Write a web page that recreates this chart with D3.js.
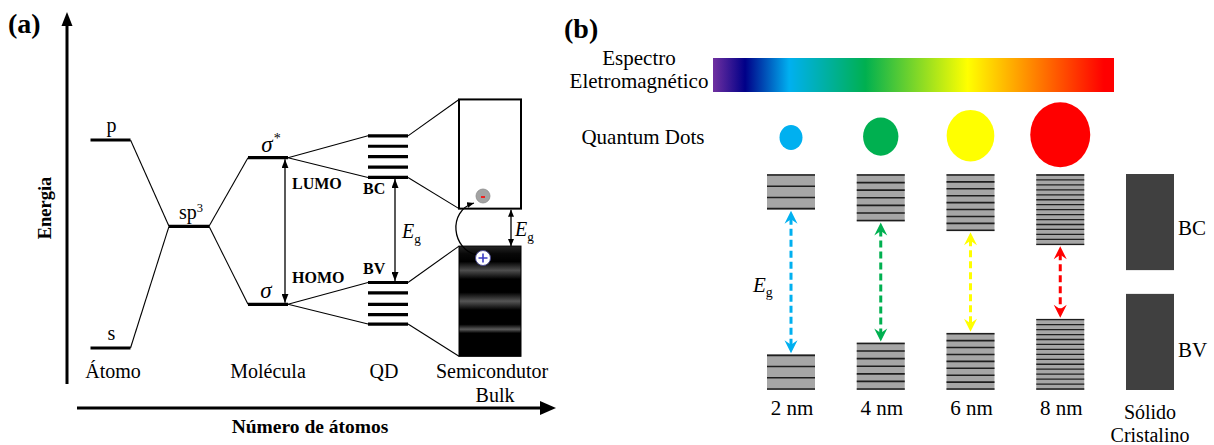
<!DOCTYPE html>
<html>
<head>
<meta charset="utf-8">
<script src="https://cdn.jsdelivr.net/npm/d3@7"></script>
<style>
  body { margin: 0; background: #fff; }
  svg { display: block; }
  text { font-family: "Liberation Serif", "Times New Roman", serif; fill: #000; }
</style>
</head>
<body>
<svg id="fig" width="1214" height="445"></svg>
<script>
// ---------- Panel (a): energy levels, arbitrary energy units ----------
const atomLevels = [{ name: "p", E: 20 }, { name: "s", E: 0 }];
const hybridLevel = { name: "sp", sup: "3", E: 11.7 };
const moleculeLevels = [{ name: "σ", sup: "*", E: 18.3, tag: "LUMO" },
                        { name: "σ", sup: "", E: 4.2, tag: "HOMO" }];
const qdConduction = [20.4, 19.4, 18.4, 17.4, 16.4];
const qdValence = [6.3, 5.3, 4.2, 3.2, 2.3];
const bulkConduction = [13.4, 23.9];   // [bottom, top]
const bulkValence = [-0.8, 9.8];       // [bottom, top]
const stageLabels = ["Átomo", "Molécula", "QD", "Semicondutor", "Bulk"];
const axisTitles = { y: "Energia", x: "Número de átomos" };

// ---------- Panel (b): quantum dots of increasing size ----------
const dotSizeNm = [2, 4, 6, 8];
const dotLabels = ["2 nm", "4 nm", "6 nm", "8 nm"];
const dotColors = ["#00b0f0", "#00b050", "#ffff00", "#ff0000"];
const gapEnergy = [6.7, 5.6, 4.7, 3.4];      // band gap, arbitrary units
const levelCount = [4, 7, 9, 15];            // discrete levels per band
const bulkGap = 1.1;
const spectrumStops = [
  [0.00, "#7030a0"], [0.08, "#000088"], [0.19, "#00b0f0"], [0.38, "#00b050"],
  [0.635, "#ffff00"], [0.975, "#ff0000"], [1.00, "#ff0000"]
];

const svg = d3.select("#fig");
const defs = svg.append("defs");

// arrowhead marker used by the black double arrows
function blackMarker(id, len, wid) {
  defs.append("marker").attr("id", id)
    .attr("viewBox", `0 0 ${len} ${wid}`).attr("refX", len).attr("refY", wid / 2)
    .attr("markerWidth", len).attr("markerHeight", wid)
    .attr("markerUnits", "userSpaceOnUse").attr("orient", "auto-start-reverse")
    .append("path").attr("d", `M0,0 L${len},${wid / 2} L0,${wid} Z`).attr("fill", "#000");
}
blackMarker("ah", 9, 7);
blackMarker("ahs", 7, 6);

// ================= PANEL (a) =================
const A = svg.append("g");
const yA = d3.scaleLinear().domain([0, 20]).range([348, 140]);
const xA = d3.scaleOrdinal()
  .domain(["atom", "hybrid", "molecule", "qd", "bulk"])
  .range([110.5, 189, 268, 388, 490]);
const hw = 20, bw = 31;
const fsA = "20px";

A.append("text").attr("x", 8).attr("y", 33)
  .style("font-size", "28px").style("font-weight", "bold").text("(a)");

// axes with arrowheads
A.append("line").attr("x1", 67).attr("x2", 67).attr("y1", 384).attr("y2", 24)
  .attr("stroke", "#000").attr("stroke-width", 3);
A.append("path").attr("d", "M61.5,26 L67,12 L72.5,26 Z").attr("fill", "#000");
A.append("line").attr("x1", 77).attr("x2", 542).attr("y1", 408).attr("y2", 408)
  .attr("stroke", "#000").attr("stroke-width", 3);
A.append("path").attr("d", "M540,401 L556,408 L540,415 Z").attr("fill", "#000");

A.append("text").attr("transform", "translate(51,208) rotate(-90)")
  .attr("text-anchor", "middle").style("font-size", "18.5px").style("font-weight", "bold")
  .text(axisTitles.y);
A.append("text").attr("x", 310).attr("y", 433).attr("text-anchor", "middle")
  .style("font-size", "19.5px").style("font-weight", "bold").text(axisTitles.x);

// thin connector lines
const conn = [];
atomLevels.forEach(d => conn.push([xA("atom") + hw, yA(d.E), xA("hybrid") - hw, yA(hybridLevel.E)]));
moleculeLevels.forEach(d => conn.push([xA("hybrid") + hw, yA(hybridLevel.E), xA("molecule") - hw, yA(d.E)]));
[[moleculeLevels[0], qdConduction], [moleculeLevels[1], qdValence]].forEach(([m, q]) => {
  conn.push([xA("molecule") + hw, yA(m.E), xA("qd") - hw, yA(q[0])]);
  conn.push([xA("molecule") + hw, yA(m.E), xA("qd") - hw, yA(q[q.length - 1])]);
});
[[qdConduction, bulkConduction], [qdValence, bulkValence]].forEach(([q, b]) => {
  conn.push([xA("qd") + hw, yA(q[0]), xA("bulk") - bw, yA(b[1])]);
  conn.push([xA("qd") + hw, yA(q[q.length - 1]), xA("bulk") - bw, yA(b[0])]);
});
A.selectAll("line.conn").data(conn).join("line").attr("class", "conn")
  .attr("x1", d => d[0]).attr("y1", d => d[1]).attr("x2", d => d[2]).attr("y2", d => d[3])
  .attr("stroke", "#000").attr("stroke-width", 1.1);

// thick level bars
const bars = [];
atomLevels.forEach(d => bars.push(["atom", d.E]));
bars.push(["hybrid", hybridLevel.E]);
moleculeLevels.forEach(d => bars.push(["molecule", d.E]));
qdConduction.concat(qdValence).forEach(E => bars.push(["qd", E]));
A.selectAll("line.lvl").data(bars).join("line").attr("class", "lvl")
  .attr("x1", d => xA(d[0]) - hw).attr("x2", d => xA(d[0]) + hw)
  .attr("y1", d => yA(d[1])).attr("y2", d => yA(d[1]))
  .attr("stroke", "#000").attr("stroke-width", 3.2);

// level names
atomLevels.forEach(d => A.append("text").attr("x", xA("atom") + 1).attr("y", yA(d.E) - 8)
  .attr("text-anchor", "middle").style("font-size", fsA).text(d.name));
const sp = A.append("text").attr("x", xA("hybrid") + 2).attr("y", yA(hybridLevel.E) - 7)
  .attr("text-anchor", "middle").style("font-size", fsA);
sp.append("tspan").text(hybridLevel.name);
sp.append("tspan").attr("dy", -7).style("font-size", "12.5px").text(hybridLevel.sup);
moleculeLevels.forEach(d => {
  const t = A.append("text").attr("x", xA("molecule") + (d.sup ? 3 : -2)).attr("y", yA(d.E) - 6)
    .attr("text-anchor", "middle").style("font-size", "23px");
  t.append("tspan").style("font-style", "italic").text(d.name);
  if (d.sup) t.append("tspan").attr("dx", 1).attr("dy", -9).style("font-size", "14px").text(d.sup);
});

// LUMO/HOMO and BC/BV tags
A.append("text").attr("x", 292).attr("y", yA(moleculeLevels[0].E) + 31)
  .style("font-size", "16px").style("font-weight", "bold").text(moleculeLevels[0].tag);
A.append("text").attr("x", 292).attr("y", yA(moleculeLevels[1].E) - 21)
  .style("font-size", "16px").style("font-weight", "bold").text(moleculeLevels[1].tag);
A.append("text").attr("x", 363).attr("y", yA(qdConduction[4]) + 17)
  .style("font-size", "16px").style("font-weight", "bold").text("BC");
A.append("text").attr("x", 363).attr("y", yA(qdValence[0]) - 8)
  .style("font-size", "16px").style("font-weight", "bold").text("BV");

// double arrows (gaps)
function dbl(g, x, y1, y2, m) {
  g.append("line").attr("x1", x).attr("x2", x).attr("y1", y1).attr("y2", y2)
    .attr("stroke", "#000").attr("stroke-width", 1.3)
    .attr("marker-start", `url(#${m})`).attr("marker-end", `url(#${m})`);
}
dbl(A, 285, yA(moleculeLevels[0].E) + 1.5, yA(moleculeLevels[1].E) - 1.5, "ah");
dbl(A, 395, yA(qdConduction[4]) + 1.5, yA(qdValence[0]) - 1.5, "ah");
dbl(A, 511, yA(bulkConduction[0]) + 1, yA(bulkValence[1]), "ahs");

function eg(g, x, y, size) {
  const t = g.append("text").attr("x", x).attr("y", y).style("font-size", size + "px");
  t.append("tspan").style("font-style", "italic").text("E");
  t.append("tspan").attr("dy", 5).style("font-size", (size * 0.66) + "px").text("g");
}
eg(A, 402, 238, 20);
eg(A, 515, 236, 20);

// bulk bands
const bulkGrad = defs.append("linearGradient").attr("id", "vbGrad")
  .attr("x1", 0).attr("y1", 0).attr("x2", 0).attr("y2", 1);
[[0, "#262626"], [0.07, "#080808"], [0.14, "#000"], [0.22, "#4e4e4e"], [0.30, "#000"],
 [0.42, "#000"], [0.50, "#555"], [0.58, "#000"], [0.71, "#000"], [0.755, "#5a5a5a"],
 [0.79, "#000"], [1, "#000"]].forEach(([o, c]) =>
  bulkGrad.append("stop").attr("offset", o).attr("stop-color", c));

A.append("rect").attr("x", xA("bulk") - bw).attr("y", yA(bulkConduction[1]))
  .attr("width", 2 * bw).attr("height", yA(bulkConduction[0]) - yA(bulkConduction[1]))
  .attr("fill", "#fff").attr("stroke", "#000").attr("stroke-width", 2);
A.append("rect").attr("x", xA("bulk") - bw).attr("y", yA(bulkValence[1]))
  .attr("width", 2 * bw).attr("height", yA(bulkValence[0]) - yA(bulkValence[1]))
  .attr("fill", "url(#vbGrad)").attr("stroke", "#000").attr("stroke-width", 1);

// excitation: hole in BV, electron in BC
A.append("path").attr("d", "M477,255 C452,250 447,211 474,203")
  .attr("fill", "none").attr("stroke", "#000").attr("stroke-width", 1.3)
  .attr("marker-end", "url(#ahs)");
A.append("circle").attr("cx", 483).attr("cy", 196).attr("r", 7)
  .attr("fill", "#a3a3a3").attr("stroke", "#8c8c8c").attr("stroke-width", 0.8);
A.append("line").attr("x1", 481).attr("x2", 485).attr("y1", 197).attr("y2", 197)
  .attr("stroke", "#ff0000").attr("stroke-width", 1.6);
A.append("circle").attr("cx", 483).attr("cy", 258).attr("r", 7.5)
  .attr("fill", "#fff").attr("stroke", "#4a4a90").attr("stroke-width", 1);
A.append("path").attr("d", "M478.5,258 L487.5,258 M483,253.5 L483,262.5")
  .attr("stroke", "#3b3bc4").attr("stroke-width", 1.6);

// stage names
const stagePos = [113, 268, 384, 492];
A.selectAll("text.stage").data(stageLabels.slice(0, 4)).join("text").attr("class", "stage")
  .attr("x", (d, i) => stagePos[i]).attr("y", 378).attr("text-anchor", "middle")
  .style("font-size", fsA).text(d => d);
A.append("text").attr("x", 495).attr("y", 402).attr("text-anchor", "middle")
  .style("font-size", fsA).text(stageLabels[4]);

// ================= PANEL (b) =================
const B = svg.append("g");
const fsB = "21px";
B.append("text").attr("x", 564).attr("y", 38)
  .style("font-size", "28px").style("font-weight", "bold").text("(b)");

// spectrum bar
const specGrad = defs.append("linearGradient").attr("id", "spec");
spectrumStops.forEach(([o, c]) => specGrad.append("stop").attr("offset", o).attr("stop-color", c));
const xSpec = d3.scaleLinear().domain([0, 1]).range([713, 1114]);
B.append("rect").attr("x", xSpec(0)).attr("y", 58).attr("width", xSpec(1) - xSpec(0))
  .attr("height", 34).attr("fill", "url(#spec)");
B.append("text").attr("x", 639).attr("y", 65).attr("text-anchor", "middle")
  .style("font-size", fsB).text("Espectro");
B.append("text").attr("x", 639).attr("y", 88).attr("text-anchor", "middle")
  .style("font-size", fsB).text("Eletromagnético");
B.append("text").attr("x", 643).attr("y", 144).attr("text-anchor", "middle")
  .style("font-size", fsB).text("Quantum Dots");

const xB = d3.scalePoint().domain([...dotLabels, "solid"]).range([791, 1150]);
const yB = d3.scaleLinear().domain([0, 10]).range([390, 174]);
const rDot = d3.scaleLinear().domain([2, 8]).range([11.5, 30]);
const colW = 48, mid = 5;

// dots
B.selectAll("ellipse.dot").data(dotSizeNm).join("ellipse").attr("class", "dot")
  .attr("cx", (d, i) => xB(dotLabels[i])).attr("cy", d => 137.5 - (rDot(d) - 11.5) * 0.15)
  .attr("rx", d => rDot(d)).attr("ry", d => rDot(d) * 1.08)
  .attr("fill", (d, i) => dotColors[i]);

// bands with discrete levels
dotLabels.forEach((lab, i) => {
  const cx = xB(lab), g = gapEnergy[i], n = levelCount[i];
  const bands = [[10, mid + g / 2], [mid - g / 2, 0]];
  bands.forEach(([eTop, eBot]) => {
    const y0 = yB(eTop), y1 = yB(eBot);
    B.append("rect").attr("x", cx - colW / 2).attr("y", y0).attr("width", colW)
      .attr("height", y1 - y0).attr("fill", "#a6a6a6");
    const ys = d3.range(n).map(k => y0 + 1 + k * (y1 - y0 - 2) / (n - 1));
    B.selectAll(null).data(ys).join("line")
      .attr("x1", cx - colW / 2).attr("x2", cx + colW / 2)
      .attr("y1", d => d).attr("y2", d => d)
      .attr("stroke", "#1e1e1e").attr("stroke-width", n > 10 ? 1.3 : 1.6);
  });
  // colored gap arrow
  const yTop = yB(mid + g / 2), yBot = yB(mid - g / 2), col = dotColors[i];
  B.append("line").attr("x1", cx).attr("x2", cx).attr("y1", yTop + 8).attr("y2", yBot - 8)
    .attr("stroke", col).attr("stroke-width", 3).attr("stroke-dasharray", "7,4");
  B.append("path")
    .attr("d", `M${cx},${yTop + 1} L${cx + 6.5},${yTop + 14} L${cx},${yTop + 9.5} L${cx - 6.5},${yTop + 14} Z`)
    .attr("fill", col);
  B.append("path")
    .attr("d", `M${cx},${yBot - 1} L${cx + 6.5},${yBot - 14} L${cx},${yBot - 9.5} L${cx - 6.5},${yBot - 14} Z`)
    .attr("fill", col);
  B.append("text").attr("x", cx + 1).attr("y", 415).attr("text-anchor", "middle")
    .style("font-size", fsB).text(lab);
});
eg(B, 753, 292, 21);

// crystalline solid: continuous bands
const sx = xB("solid");
B.append("rect").attr("x", sx - colW / 2).attr("y", yB(10)).attr("width", colW)
  .attr("height", yB(mid + bulkGap / 2) - yB(10)).attr("fill", "#404040");
B.append("rect").attr("x", sx - colW / 2).attr("y", yB(mid - bulkGap / 2)).attr("width", colW)
  .attr("height", yB(0) - yB(mid - bulkGap / 2)).attr("fill", "#404040");
B.append("text").attr("x", sx + 28).attr("y", 235).style("font-size", fsB).text("BC");
B.append("text").attr("x", sx + 28).attr("y", 357).style("font-size", fsB).text("BV");
B.append("text").attr("x", sx).attr("y", 419).attr("text-anchor", "middle")
  .style("font-size", "20px").text("Sólido");
B.append("text").attr("x", sx).attr("y", 442).attr("text-anchor", "middle")
  .style("font-size", "20px").text("Cristalino");
</script>
</body>
</html>
